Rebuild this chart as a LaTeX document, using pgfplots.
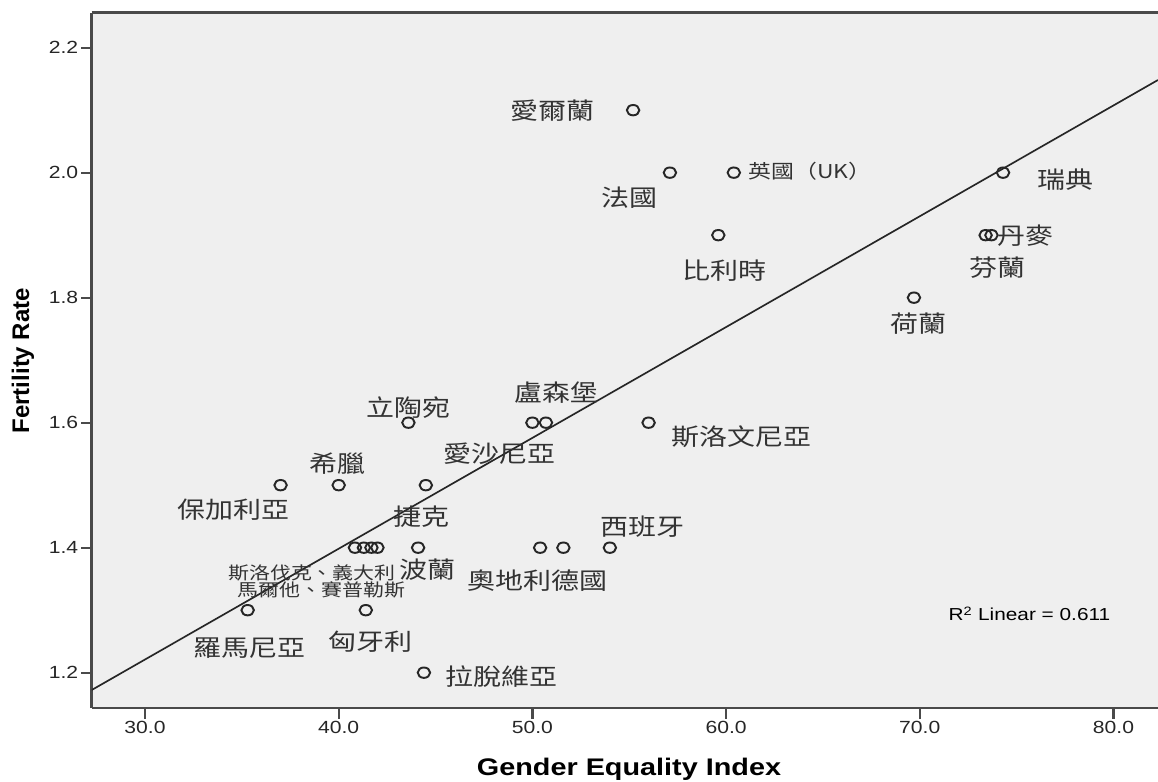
\documentclass[border=0pt]{standalone}
\usepackage{fontspec}
\usepackage{pgfplots}
\pgfplotsset{compat=1.18}
\setmainfont{Liberation Sans}
% widened faces: the chart is set a little wider than tall
\newfontfamily\ticksf[FakeStretch=1.2]{Liberation Sans}
\newfontfamily\plainsf{Liberation Sans}
\newfontfamily\cjk[FakeStretch=1.2]{Noto Sans CJK TC}
\definecolor{bgcol}{HTML}{EFEFEF}
\definecolor{axcol}{HTML}{4A4A4A}
\definecolor{txtcol}{HTML}{333333}

\newcommand{\lab}{\cjk\fontsize{17.5}{20}\selectfont}
\newcommand{\labsmall}{\cjk\fontsize{14.3}{16}\selectfont}
\newcommand{\labtiny}{\cjk\fontsize{13.1}{13.2}\selectfont}

\begin{document}
\begin{tikzpicture}
\begin{axis}[
  at={(68.8pt,55.5pt)}, anchor=south west,
  scale only axis, width=799.7pt, height=521.5pt,
  xmin=27.25, xmax=82.30, ymin=1.1435, ymax=2.256,
  axis x line=box, axis y line=left,
  axis line style={-, line width=2pt, draw=axcol},
  axis background/.style={fill=bgcol},
  tick pos=left, tick align=outside,
  major tick length=8pt,
  every tick/.style={line width=1.7pt, draw=axcol},
  xtick={30,40,50,60,70,80},
  ytick={1.2,1.4,1.6,1.8,2.0,2.2},
  /pgf/number format/assume math mode=true,
  /pgf/number format/.cd, fixed, fixed zerofill, precision=1,
  /pgfplots/.cd,
  ticklabel style={font=\ticksf\fontsize{13.2}{14}\selectfont, text=black!85},
  xticklabel style={inner sep=2pt},
  yticklabel style={inner sep=2pt},
]
% fit line
\addplot[black!85, line width=1.25pt] coordinates {(27.25,1.1723) (82.30,2.1483)};
% countries
\addplot[only marks, mark=o, mark size=3.9pt,
  mark options={xscale=1.2, line width=1.45pt, draw=black!85}] coordinates {
  (55.2,2.1) (57.1,2.0) (60.4,2.0) (59.6,1.9) (74.3,2.0)
  (73.4,1.9) (73.7,1.9) (69.7,1.8)
  (43.6,1.6) (50.0,1.6) (50.7,1.6) (56.0,1.6)
  (37.0,1.5) (40.0,1.5) (44.5,1.5)
  (40.84,1.4) (41.30,1.4) (41.69,1.4) (42.00,1.4)
  (44.1,1.4) (50.4,1.4) (51.6,1.4) (54.0,1.4)
  (35.3,1.3) (41.4,1.3) (44.4,1.2)
};
\begin{scope}[every node/.style={text=txtcol, inner sep=0pt}]
\node[font=\lab] at (axis cs:51.06,2.099) {愛爾蘭};
\node[font=\lab] at (axis cs:54.99,1.960) {法國};
\node[font=\labsmall, anchor=west] at (axis cs:61.15,2.0016) {英國（UK）};
\node[font=\lab] at (axis cs:59.94,1.8427) {比利時};
\node[font=\lab] at (axis cs:77.50,1.9883) {瑞典};
\node[font=\lab, anchor=west] at (axis cs:73.98,1.899) {丹麥};
\node[font=\lab] at (axis cs:73.99,1.8483) {芬蘭};
\node[font=\lab] at (axis cs:69.91,1.7579) {荷蘭};
\node[font=\lab] at (axis cs:43.58,1.6235) {立陶宛};
\node[font=\lab] at (axis cs:39.94,1.5339) {希臘};
\node[font=\lab] at (axis cs:34.59,1.4603) {保加利亞};
\node[font=\lab] at (axis cs:44.25,1.4496) {捷克};
\node[font=\lab] at (axis cs:48.30,1.5499) {愛沙尼亞};
\node[font=\lab] at (axis cs:51.25,1.6475) {盧森堡};
\node[font=\lab] at (axis cs:60.81,1.5776) {斯洛文尼亞};
\node[font=\lab] at (axis cs:55.71,1.4336) {西班牙};
\node[font=\lab] at (axis cs:50.26,1.3467) {奧地利德國};
\node[font=\lab] at (axis cs:44.61,1.3643) {波蘭};
\node[font=\labtiny] at (axis cs:38.62,1.3595) {斯洛伐克、義大利};
\node[font=\labtiny] at (axis cs:39.12,1.3323) {馬爾他、賽普勒斯};
\node[font=\lab] at (axis cs:35.37,1.2395) {羅馬尼亞};
\node[font=\lab] at (axis cs:41.62,1.2496) {匈牙利};
\node[font=\lab] at (axis cs:48.38,1.1936) {拉脫維亞};
\node[font=\ticksf\fontsize{13}{14}\selectfont, text=black] at (axis cs:75.66,1.294) {R\textsuperscript{2} Linear = 0.611};
\end{scope}
\end{axis}
% axis titles
\node[font=\ticksf\bfseries\fontsize{18}{20}\selectfont, anchor=base] at (471.75pt,4.6pt) {Gender Equality Index};
\node[font=\plainsf\bfseries\fontsize{18}{20}\selectfont, rotate=90] at (17.25pt,316pt) {Fertility Rate};
\pgfresetboundingbox
\path[use as bounding box] (0,0) rectangle (868.5pt,586.5pt);
\end{tikzpicture}
\end{document}
